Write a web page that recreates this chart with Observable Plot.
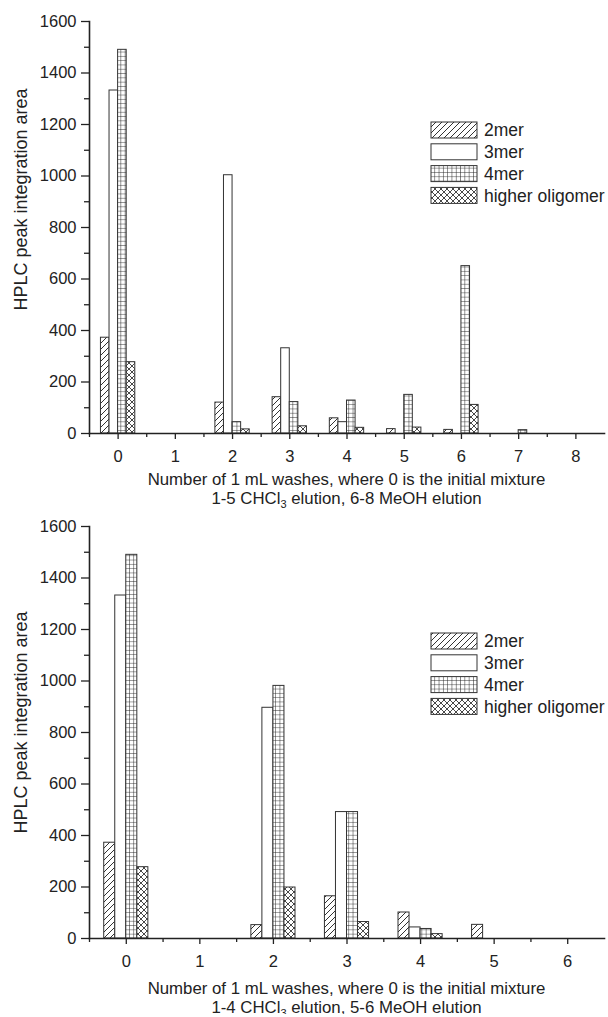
<!DOCTYPE html>
<html>
<head>
<meta charset="utf-8">
<script src="https://cdn.jsdelivr.net/npm/d3@7"></script>
<script src="https://cdn.jsdelivr.net/npm/@observablehq/plot@0.6"></script>
<style>
  body { margin: 0; background: #fff; font-family: "Liberation Sans", Arial, sans-serif; color: #222; }
  #wrap { width: 608px; position: relative; }
  .cap { margin-left: 89px; width: 515px; text-align: center; font-size: 16.8px; line-height: 19px; height: 40px; box-sizing: border-box; color: #222; white-space: nowrap; }
  .cap sub { font-size: 11px; line-height: 0; vertical-align: -4px; }
  svg.plot { display: block; }
</style>
</head>
<body>
<svg width="0" height="0" style="position:absolute">
  <defs>
    <pattern id="p2mer" patternUnits="userSpaceOnUse" width="6" height="6">
      <rect width="6" height="6" fill="#fff"/>
      <path d="M-1,7 L7,-1 M-4,4 L4,-4 M2,10 L10,2" stroke="#333" stroke-width="1"/>
    </pattern>
    <pattern id="p4mer" patternUnits="userSpaceOnUse" width="4.3" height="4.3">
      <rect width="4.3" height="4.3" fill="#fff"/>
      <path d="M0,0 L4.3,0 M0,0 L0,4.3" stroke="#222" stroke-width="1"/>
    </pattern>
    <pattern id="phigh" patternUnits="userSpaceOnUse" width="6" height="6">
      <rect width="6" height="6" fill="#fff"/>
      <path d="M0,0 L6,6 M6,0 L0,6 M-1,5 L1,7 M5,-1 L7,1 M-1,1 L1,-1 M5,7 L7,5" stroke="#333" stroke-width="0.9"/>
    </pattern>
  </defs>
</svg>
<div id="wrap">
  <div id="chartA"></div>
  <div class="cap" style="padding-top:2px">Number of 1 mL washes, where 0 is the initial mixture<br>1-5 CHCl<sub>3</sub> elution, 6-8 MeOH elution</div>
  <div id="chartB"></div>
  <div class="cap" style="padding-top:5px">Number of 1 mL washes, where 0 is the initial mixture<br>1-4 CHCl<sub>3</sub> elution, 5-6 MeOH elution</div>
</div>
<script>
// ---- data ----
const seriesNames = ["2mer", "3mer", "4mer", "higher oligomer"];
const yTitle = "HPLC peak integration area";

// Chart A (top)
const washesA = [0, 1, 2, 3, 4, 5, 6, 7, 8];
const twoMerA    = [372, 0, 120, 141, 59, 17, 14, 0, 0];
const threeMerA  = [1332, 0, 1003, 331, 44, 0, 0, 0, 0];
const fourMerA   = [1490, 0, 44, 122, 128, 150, 650, 13, 0];
const higherA    = [277, 0, 16, 28, 22, 23, 111, 0, 0];

// Chart B (bottom)
const washesB = [0, 1, 2, 3, 4, 5, 6];
const twoMerB    = [372, 0, 52, 164, 101, 53, 0];
const threeMerB  = [1332, 0, 896, 491, 43, 0, 0];
const fourMerB   = [1490, 0, 981, 491, 37, 0, 0];
const higherB    = [277, 0, 198, 64, 17, 0, 0];

// tick values
const yMajorTicks = [0, 200, 400, 600, 800, 1000, 1200, 1400, 1600];
const yMinorTicks = [100, 300, 500, 700, 900, 1100, 1300, 1500];
const xMajorTicksA = [0, 1, 2, 3, 4, 5, 6, 7, 8];
const xMinorTicksA = [-0.5, 0.5, 1.5, 2.5, 3.5, 4.5, 5.5, 6.5, 7.5];
const xMajorTicksB = [0, 1, 2, 3, 4, 5, 6];
const xMinorTicksB = [-0.5, 0.5, 1.5, 2.5, 3.5, 4.5, 5.5];

// ---- styling ----
const fills = ["url(#p2mer)", "#fff", "url(#p4mer)", "url(#phigh)"];
const barW = 0.15;
const offsets = [-0.3, -0.15, 0, 0.15];
const ink = "#222";
const fontFam = "'Liberation Sans', Arial, sans-serif";

function legendMark(top) {
  return (index, scales, values, dims) => {
    const g = d3.create("svg:g");
    seriesNames.forEach((s, i) => {
      const y = top + i * 21.8;
      g.append("rect").attr("x", dims.width - 177).attr("y", y)
        .attr("width", 46).attr("height", 16)
        .attr("fill", fills[i]).attr("stroke", "#333").attr("stroke-width", 1);
      g.append("text").attr("x", dims.width - 124).attr("y", y + 8)
        .attr("dy", "0.36em")
        .style("fill", ink)
        .style("text-anchor", "start")
        .style("font-size", "17.5px")
        .style("font-family", fontFam)
        .text(s);
    });
    return g.node();
  };
}

function chart({washes, vals, domain, xMajor, xMinor, height, mt, mb, legendTop, titleDy}) {
  const marks = [];
  vals.forEach((arr, i) => {
    const data = washes.map((w, j) => ({w, v: arr[j]})).filter(d => d.v > 0);
    marks.push(Plot.rectY(data, {
      x1: d => d.w + offsets[i],
      x2: d => d.w + offsets[i] + barW,
      y: "v",
      fill: fills[i],
      stroke: "#333",
      strokeWidth: 1
    }));
  });
  marks.push(
    Plot.axisY({ticks: yMajorTicks, tickSize: 8, tickPadding: 5, fontSize: 16.5, label: null, tickFormat: d => String(d), strokeWidth: 1.3, stroke: ink, fill: ink}),
    Plot.axisY({ticks: yMinorTicks, tickSize: 5, tickFormat: () => "", label: null, strokeWidth: 1.3, stroke: ink}),
    Plot.axisX({ticks: xMajor, tickSize: 6, tickPadding: 11, fontSize: 16.5, label: null, tickFormat: d => String(d), strokeWidth: 1.3, stroke: ink, fill: ink}),
    Plot.axisX({ticks: xMinor, tickSize: 4, tickFormat: () => "", label: null, strokeWidth: 1.3, stroke: ink}),
    Plot.frame({anchor: "left", stroke: ink, strokeWidth: 1.6}),
    Plot.frame({anchor: "bottom", stroke: ink, strokeWidth: 1.6}),
    Plot.text([yTitle], {frameAnchor: "left", rotate: -90, dx: -68, dy: titleDy, fontSize: 18, fill: ink, textAnchor: "middle", lineAnchor: "middle"}),
    legendMark(legendTop)
  );
  return Plot.plot({
    width: 608,
    height,
    marginTop: mt,
    marginBottom: mb,
    marginLeft: 89,
    marginRight: 4,
    x: {type: "linear", domain},
    y: {domain: [0, 1600]},
    style: {fontFamily: fontFam, fontSize: "16px", color: ink, background: "#fff"},
    marks
  });
}

const a = chart({
  washes: washesA, vals: [twoMerA, threeMerA, fourMerA, higherA],
  domain: [-0.5, 8.5], xMajor: xMajorTicksA, xMinor: xMinorTicksA,
  height: 468, mt: 21, mb: 35, legendTop: 122, titleDy: -28
});
a.classList.add("plot");
document.getElementById("chartA").appendChild(a);

const b = chart({
  washes: washesB, vals: [twoMerB, threeMerB, fourMerB, higherB],
  domain: [-0.5, 6.5], xMajor: xMajorTicksB, xMinor: xMinorTicksB,
  height: 466, mt: 18, mb: 36, legendTop: 125, titleDy: -10
});
b.classList.add("plot");
document.getElementById("chartB").appendChild(b);
</script>
</body>
</html>
